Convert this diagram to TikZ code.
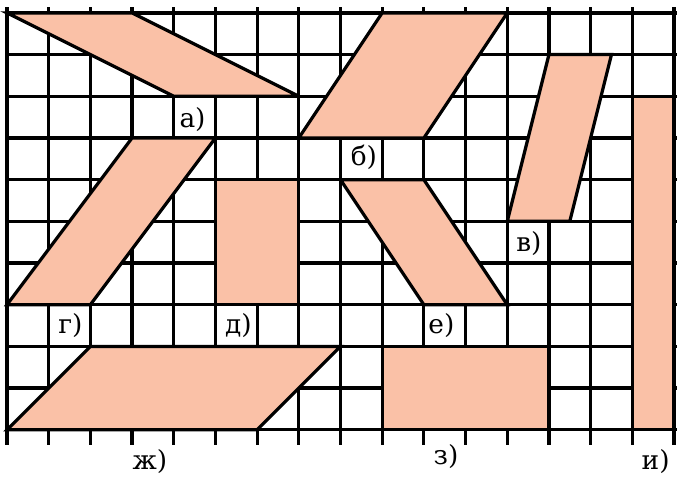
\documentclass[tikz,border=0pt]{standalone}
\usepackage{fontspec}
\setmainfont{DejaVu Serif}
\definecolor{shapefill}{RGB}{250,193,167}
\begin{document}
\begin{tikzpicture}[x=1cm,y=1cm,
  gridline/.style={line width=2.2pt,black},
  figure/.style={fill=shapefill,draw=black,line width=2.2pt,line join=miter},
  lbl/.style={font=\fontsize{18}{21}\selectfont,inner sep=0pt}]
\useasboundingbox (-0.168,-1.13) rectangle (16.072,10.31);
% grid
\foreach \i in {0,...,16} \draw[gridline] (\i,-0.36) -- (\i,10.13);
\foreach \j in {0,...,10} \draw[gridline] (0,\j) -- (16.3,\j);
% shapes
\path[figure] (0,10) -- (3,10) -- (7,8) -- (4,8) -- cycle;        % a
\path[figure] (7,7) -- (10,7) -- (12,10) -- (9,10) -- cycle;      % b
\path[figure] (12,5) -- (13.5,5) -- (14.5,9) -- (13,9) -- cycle;  % v
\path[figure] (0,3) -- (2,3) -- (5,7) -- (3,7) -- cycle;          % g
\path[figure] (5,3) rectangle (7,6);                               % d
\path[figure] (8,6) -- (10,6) -- (12,3) -- (10,3) -- cycle;       % e
\path[figure] (0,0) -- (6,0) -- (8,2) -- (2,2) -- cycle;          % zh
\path[figure] (9,0) rectangle (13,2);                              % z
\path[figure] (15,0) rectangle (16,8);                             % i
% labels
\node[lbl] (la) at (4.45,7.45) {а)};
\node[lbl] (lb) at (8.56,6.54) {б)};
\node[lbl] (lv) at (12.52,4.47) {в)};
\node[lbl] (lg) at (1.52,2.5) {г)};
\node[lbl] (ld) at (5.55,2.5) {д)};
\node[lbl] (le) at (10.42,2.5) {е)};
\node[lbl] (lzh) at (3.43,-0.75) {ж)};
\node[lbl] (lz) at (10.53,-0.63) {з)};
\node[lbl] (li) at (15.56,-0.75) {и)};
\end{tikzpicture}
\end{document}
